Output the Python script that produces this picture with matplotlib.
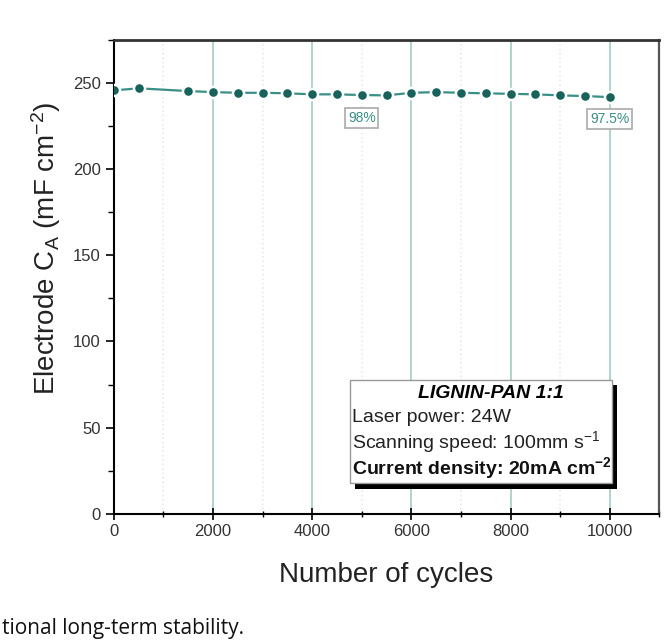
import numpy as np
import matplotlib.pyplot as plt
from matplotlib.patches import Rectangle
from matplotlib.ticker import MultipleLocator

plt.rcParams['font.family'] = ['Liberation Sans', 'DejaVu Sans']
plt.rcParams['mathtext.fontset'] = 'custom'
plt.rcParams['mathtext.rm'] = 'Liberation Sans'
plt.rcParams['mathtext.it'] = 'Liberation Sans:italic'
plt.rcParams['mathtext.bf'] = 'Liberation Sans:bold'

# capacitance retention data
cycles = [0, 500, 1500, 2000, 2500, 3000, 3500, 4000, 4500, 5000, 5500,
          6000, 6500, 7000, 7500, 8000, 8500, 9000, 9500, 10000]
cap = [245.6, 246.8, 245.2, 244.6, 244.2, 244.2, 243.9, 243.3, 243.3, 242.9, 242.7,
       244.2, 244.6, 244.2, 243.9, 243.6, 243.3, 242.7, 242.3, 241.7]
labels = ['98%', '97.5%']
label_x = [5000, 10000]
label_y = [229.5, 229.0]

teal = '#3a8f87'
dark_teal = '#17625b'

fig = plt.figure(figsize=(6.7, 6.4), dpi=100)
ax = fig.add_axes([0.170, 0.197, 0.814, 0.741])

ax.plot(cycles, cap, '-', color=teal, lw=1.6, zorder=3,
        marker='o', ms=8, mfc=dark_teal, mec='white', mew=1.8)

ax.set_xlim(0, 11000)
ax.set_ylim(0, 275)
ax.xaxis.set_major_locator(MultipleLocator(2000))
ax.xaxis.set_minor_locator(MultipleLocator(1000))
ax.yaxis.set_major_locator(MultipleLocator(50))
ax.yaxis.set_minor_locator(MultipleLocator(25))
ax.set_xticks([0, 2000, 4000, 6000, 8000, 10000])

ax.grid(axis='x', which='major', color='#a9d0c9', lw=1.3)
ax.grid(axis='x', which='minor', color='#e0efec', lw=1.2, ls=':')
ax.set_axisbelow(True)

ax.tick_params(axis='x', which='major', direction='inout', length=8, width=1.2, labelsize=12)
ax.tick_params(axis='x', which='minor', direction='inout', length=5, width=1.0)
ax.tick_params(axis='y', which='major', direction='out', length=6, width=1.2, labelsize=12)
ax.tick_params(axis='y', which='minor', direction='out', length=4, width=1.0)
for lab in ax.get_xticklabels() + ax.get_yticklabels():
    lab.set_color('#333333')

ax.spines['left'].set_linewidth(1.5)
ax.spines['bottom'].set_linewidth(1.5)
ax.spines['top'].set_linewidth(2.0)
ax.spines['top'].set_color('#333333')
ax.spines['right'].set_linewidth(1.6)
ax.spines['right'].set_color('#555555')

ax.set_xlabel('Number of cycles', fontsize=20, color='#222222', labelpad=16)
ax.set_ylabel(r'Electrode C$_\mathrm{A}$ (mF cm$^{-2}$)', fontsize=20, color='#222222')
ax.yaxis.set_label_coords(-0.094, 0.56)

for t, x, y in zip(labels, label_x, label_y):
    ax.text(x, y, t, ha='center', va='center', fontsize=10, color=teal, zorder=4,
            bbox=dict(boxstyle='square,pad=0.2', fc='white', ec='#aaaaaa', lw=1.2))

# info box with drop shadow
bx, by, bw, bh = 0.432, 0.065, 0.481, 0.218
ax.add_patch(Rectangle((bx + 0.010, by - 0.012), bw, bh, transform=ax.transAxes,
                       fc='black', ec='none', zorder=5))
ax.add_patch(Rectangle((bx, by), bw, bh, transform=ax.transAxes,
                       fc='white', ec='#999999', lw=1.0, zorder=6))
ax.text(bx + bw / 2 + 0.018, by + bh - 0.03, 'LIGNIN-PAN 1:1', transform=ax.transAxes,
        ha='center', va='center', fontsize=14, fontweight='bold', fontstyle='italic', zorder=7)
ax.text(bx + 0.005, by + bh - 0.079, 'Laser power: 24W', transform=ax.transAxes,
        ha='left', va='center', fontsize=14, color='#222222', zorder=7)
ax.text(bx + 0.005, by + bh - 0.132, r'Scanning speed: 100mm s$^{-1}$', transform=ax.transAxes,
        ha='left', va='center', fontsize=14, color='#222222', zorder=7)
ax.text(bx + 0.005, by + bh - 0.187, r'Current density: 20mA cm$^{\mathbf{-2}}$', transform=ax.transAxes,
        ha='left', va='center', fontsize=14, fontweight='bold', color='#111111', zorder=7)

fig.text(0.003, 0.002, 'tional long-term stability.', fontsize=15, family='Open Sans',
         color='#111111', ha='left', va='bottom')

plt.savefig('out.png', dpi=100)
